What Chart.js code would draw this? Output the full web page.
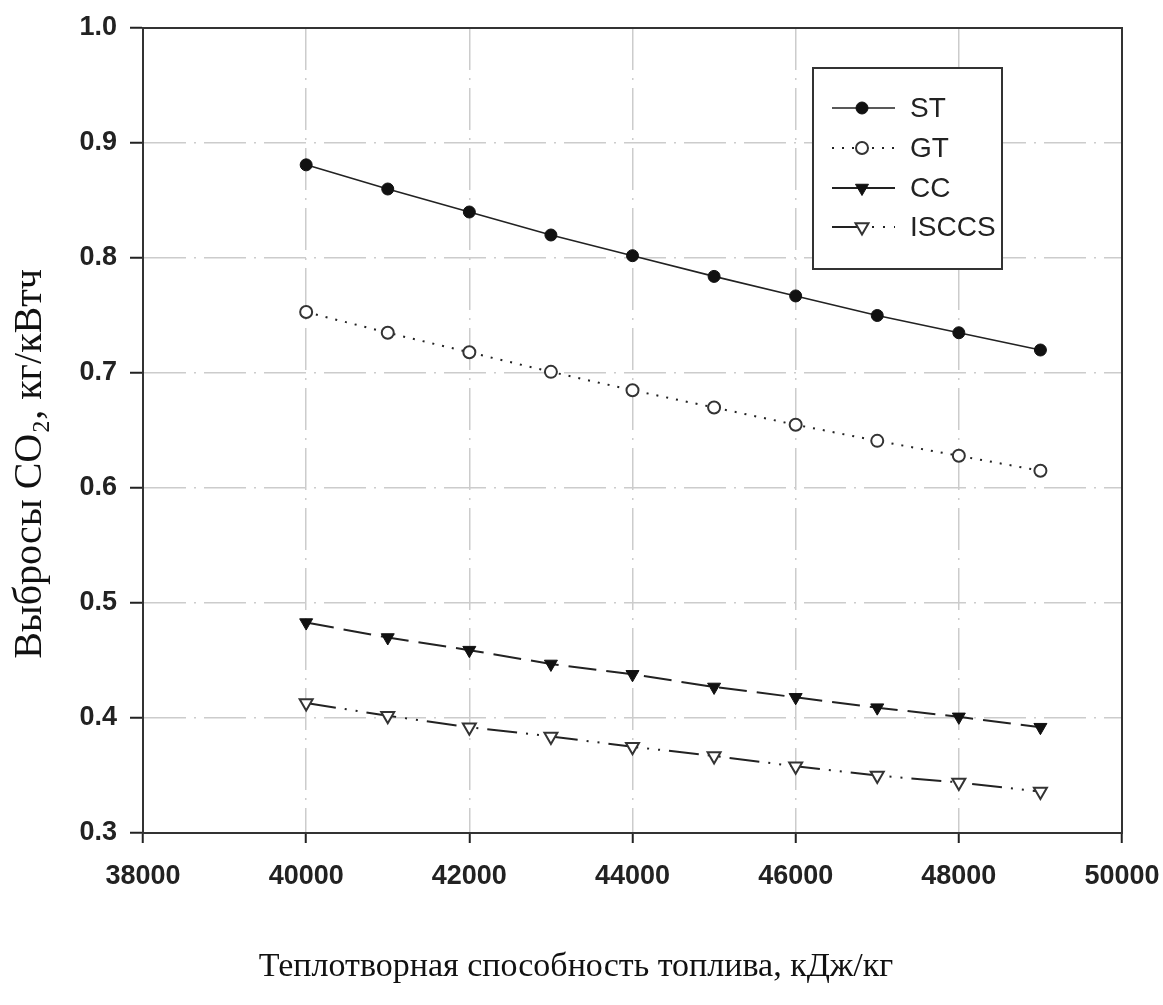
<!DOCTYPE html>
<html lang="ru">
<head>
<meta charset="UTF-8">
<title>Выбросы CO2</title>
<script src="https://cdn.jsdelivr.net/npm/chart.js"></script>
<style>
    body { margin: 0; padding: 0; background: #ffffff; }
    #wrap { width: 1163px; height: 1005px; }
</style>
</head>
<body>
<div id="wrap"><canvas id="co2Chart" width="1163" height="1005"></canvas></div>
<script>
    // data
    const heatValues = [40000, 41000, 42000, 43000, 44000, 45000, 46000, 47000, 48000, 49000];
    const stValues = [0.881, 0.860, 0.840, 0.820, 0.802, 0.784, 0.767, 0.750, 0.735, 0.720];
    const gtValues = [0.753, 0.735, 0.718, 0.701, 0.685, 0.670, 0.655, 0.641, 0.628, 0.615];
    const ccValues = [0.483, 0.470, 0.459, 0.447, 0.438, 0.427, 0.418, 0.409, 0.401, 0.392];
    const isccsValues = [0.413, 0.402, 0.392, 0.384, 0.375, 0.367, 0.358, 0.350, 0.344, 0.336];
    const seriesNames = ['ST', 'GT', 'CC', 'ISCCS'];
    const xTicks = { min: 38000, max: 50000, step: 2000 };
    const yTicks = { min: 0.3, max: 1.0, step: 0.1 };

    const xTitle = 'Теплотворная способность топлива, кДж/кг';
    const yTitle = 'Выбросы CO₂, кг/кВтч';

    const tickFont = { family: "'Liberation Sans', Arial, sans-serif", size: 27, weight: 'bold' };

    function toPoints(values) {
        return values.map((v, i) => ({ x: heatValues[i], y: v }));
    }

    // frame around plot area + axis titles + boxed legend
    const framePlugin = {
        id: 'frame',
        afterDraw(chart) {
            const { ctx, chartArea: a } = chart;
            ctx.save();
            ctx.strokeStyle = '#333';
            ctx.lineWidth = 2;
            ctx.strokeRect(a.left, a.top, a.right - a.left, a.bottom - a.top);

            // axis titles
            ctx.fillStyle = '#111';
            ctx.textAlign = 'center';
            ctx.textBaseline = 'middle';
            ctx.font = "34px 'Liberation Serif', 'Times New Roman', serif";
            ctx.fillText(xTitle, 576, 967);
            ctx.font = "40px 'Liberation Serif', 'Times New Roman', serif";
            ctx.translate(30, 464);
            ctx.rotate(-Math.PI / 2);
            ctx.fillText(yTitle, 0, 0);
            ctx.restore();

            // legend
            ctx.save();
            const lx = 813, ly = 68, lw = 189, lh = 201;
            ctx.fillStyle = '#fff';
            ctx.fillRect(lx, ly, lw, lh);
            ctx.strokeStyle = '#333';
            ctx.lineWidth = 2;
            ctx.strokeRect(lx, ly, lw, lh);
            const rows = [108, 148, 188, 227];
            chart.data.datasets.forEach((ds, i) => {
                const y = rows[i];
                ctx.save();
                ctx.strokeStyle = ds.borderColor;
                ctx.lineWidth = ds.borderWidth;
                ctx.setLineDash(ds.legendDash || ds.borderDash || []);
                ctx.beginPath();
                ctx.moveTo(832, y);
                ctx.lineTo(895, y);
                ctx.stroke();
                ctx.setLineDash([]);
                ctx.fillStyle = ds.pointBackgroundColor;
                ctx.strokeStyle = ds.pointBorderColor;
                ctx.lineWidth = ds.pointBorderWidth;
                Chart.helpers.drawPoint(ctx, {
                    pointStyle: ds.pointStyle,
                    radius: ds.pointRadius,
                    rotation: ds.pointRotation || 0,
                    borderWidth: ds.pointBorderWidth
                }, 862, y);
                ctx.restore();
                ctx.fillStyle = '#222';
                ctx.font = "28px 'Liberation Sans Narrow', 'Liberation Sans', Arial, sans-serif";
                ctx.textAlign = 'left';
                ctx.textBaseline = 'middle';
                ctx.fillText(ds.label, 910, y + 1);
            });
            ctx.restore();
        }
    };

    const ctx = document.getElementById('co2Chart').getContext('2d');
    new Chart(ctx, {
        type: 'line',
        data: {
            datasets: [
                {
                    label: seriesNames[0],
                    data: toPoints(stValues),
                    borderColor: '#222',
                    borderWidth: 1.6,
                    pointStyle: 'circle',
                    pointRadius: 6,
                    pointBackgroundColor: '#111',
                    pointBorderColor: '#111',
                    pointBorderWidth: 1
                },
                {
                    label: seriesNames[1],
                    data: toPoints(gtValues),
                    borderColor: '#222',
                    borderWidth: 2,
                    borderDash: [2, 8],
                    pointStyle: 'circle',
                    pointRadius: 6,
                    pointBackgroundColor: '#fff',
                    pointBorderColor: '#333',
                    pointBorderWidth: 2
                },
                {
                    label: seriesNames[2],
                    data: toPoints(ccValues),
                    borderColor: '#222',
                    borderWidth: 2,
                    borderDash: [28, 10],
                    legendDash: [],
                    pointStyle: 'triangle',
                    pointRotation: 180,
                    pointRadius: 7.5,
                    pointBackgroundColor: '#111',
                    pointBorderColor: '#111',
                    pointBorderWidth: 1
                },
                {
                    label: seriesNames[3],
                    data: toPoints(isccsValues),
                    borderColor: '#222',
                    borderWidth: 2,
                    borderDash: [30, 9, 2, 9, 2, 9],
                    legendDash: [32, 8, 2, 9, 2, 9],
                    pointStyle: 'triangle',
                    pointRotation: 180,
                    pointRadius: 7.5,
                    pointBackgroundColor: '#fff',
                    pointBorderColor: '#333',
                    pointBorderWidth: 2
                }
            ]
        },
        options: {
            responsive: false,
            animation: false,
            layout: { padding: { left: 0, right: 41, top: 28, bottom: 0 } },
            elements: { line: { tension: 0 } },
            plugins: {
                legend: { display: false },
                tooltip: { enabled: false }
            },
            scales: {
                x: {
                    type: 'linear',
                    min: xTicks.min,
                    max: xTicks.max,
                    ticks: {
                        stepSize: xTicks.step,
                        callback: v => String(v),
                        font: tickFont,
                        color: '#222',
                        padding: 17,
                        maxRotation: 0
                    },
                    grid: { color: '#cccccc', lineWidth: 1.5, tickColor: '#222', tickWidth: 2, tickLength: 10 },
                    border: { color: '#333', width: 2, dash: [42, 8, 2, 8] },
                    afterFit: s => { s.height = 172; s.paddingLeft = 0; s.paddingRight = 0; }
                },
                y: {
                    min: yTicks.min,
                    max: yTicks.max,
                    ticks: {
                        stepSize: yTicks.step,
                        callback: v => v.toFixed(1),
                        font: tickFont,
                        color: '#222',
                        padding: 13
                    },
                    grid: { color: '#cccccc', lineWidth: 1.5, tickColor: '#222', tickWidth: 2, tickLength: 13 },
                    border: { color: '#333', width: 2, dash: [42, 8, 2, 8] },
                    afterFit: s => { s.width = 143; s.paddingTop = 0; s.paddingBottom = 0; }
                }
            }
        },
        plugins: [framePlugin]
    });
</script>
</body>
</html>
